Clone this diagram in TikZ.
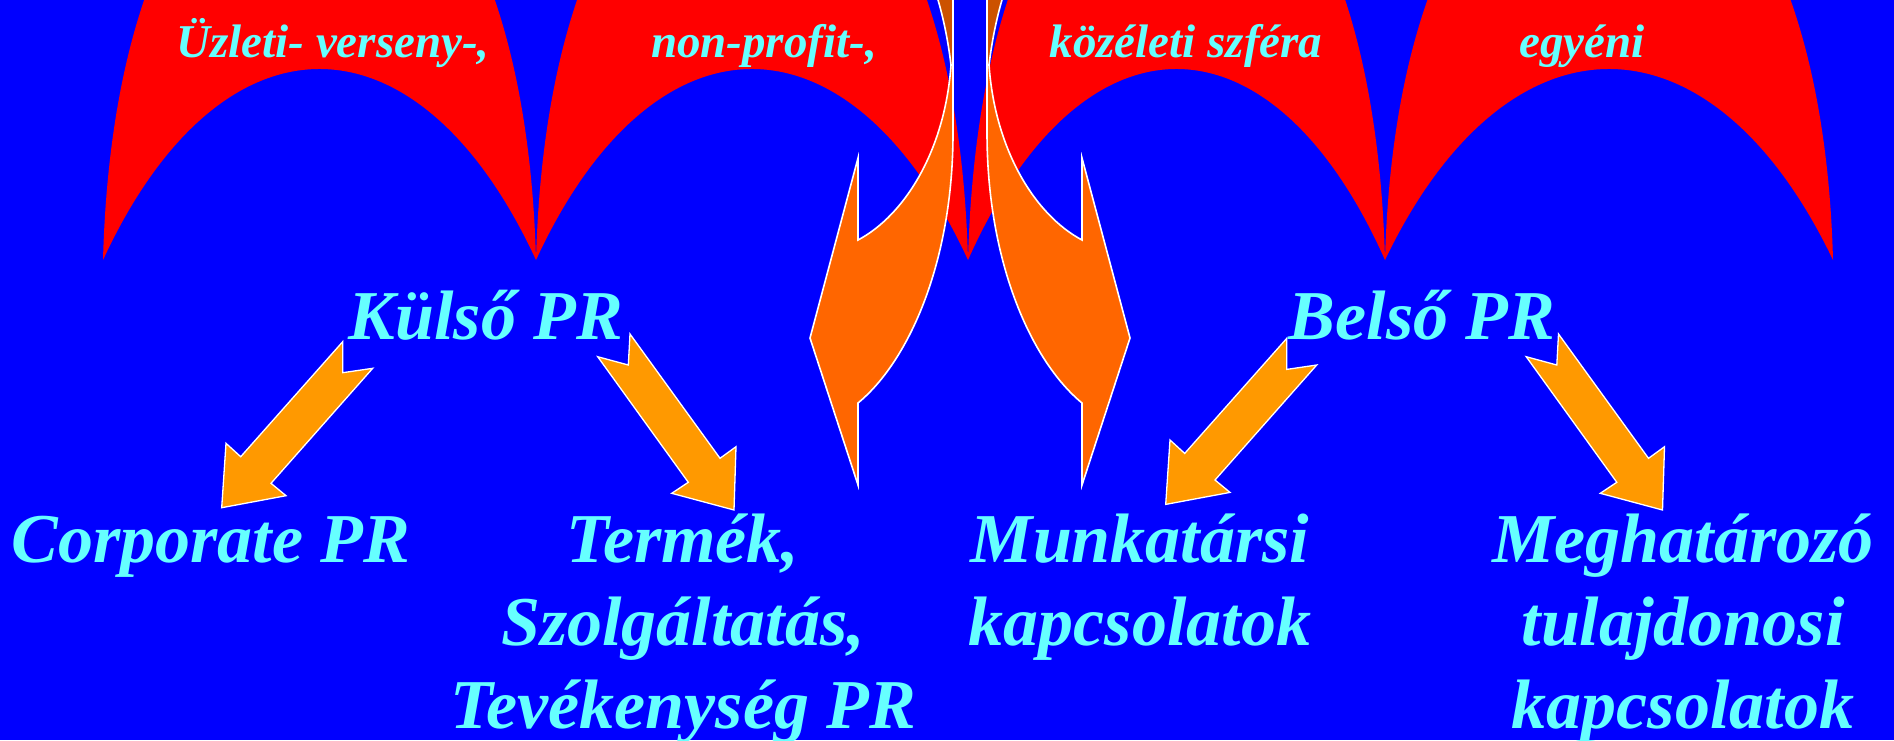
\documentclass[tikz,border=0pt]{standalone}
\usepackage{fontspec}
\setmainfont{Liberation Serif}
\definecolor{bgblue}{RGB}{0,0,255}
\definecolor{archred}{RGB}{255,0,0}
\definecolor{txtcyan}{RGB}{102,255,255}
\definecolor{bigorange}{RGB}{255,102,0}
\definecolor{darkorange}{RGB}{204,82,0}
\definecolor{smallorange}{RGB}{255,153,0}
\newcommand\RedArch[2]{\fill[archfill] (#1,260) .. controls ({#1+16},-330) and ({#2-16},-330) .. (#2,260) .. controls ({#2-0.272*(#2-#1)},5.3) and ({#1+0.272*(#2-#1)},5.3) .. (#1,260) -- cycle;}
\newcommand\CurvedBigArrow{%
  \path[bigarrow] (858,158) -- (858,240) .. controls (905,215) and (945,150) .. (951,65) -- (953,65) -- (953,133) .. controls (953,260) and (910,360) .. (858,403) -- (858,485) -- (810,338) -- cycle;
  \path[bigback] (951,65) .. controls (948,40) and (943,15) .. (935,-10) -- (953,-10) -- (953,65) -- cycle;}
\begin{document}
\begin{tikzpicture}[x=0.5pt,y=-0.5pt,
  archfill/.style={fill=archred},
  bigarrow/.style={fill=bigorange, draw=white, line width=0.8pt, line join=miter},
  bigback/.style={fill=darkorange, draw=white, line width=0.8pt},
  smallarrow/.style={fill=smallorange, draw=white, line width=0.65pt, line join=miter},
  toplabel/.style={text=txtcyan, font=\fontsize{23.5}{27}\selectfont\bfseries\itshape, anchor=base, inner sep=0pt},
  biglabel/.style={text=txtcyan, font=\fontsize{35}{41.5}\selectfont\bfseries\itshape, anchor=base, inner sep=0pt, align=center},
  notchA/.pic={\path[smallarrow] (342.7,341.7) -- (342.7,372.7) -- (372.7,368.3) -- (271,483.3) -- (286,495.7) -- (221.7,507.7) -- (226,443.3) -- (240.7,456.7) -- cycle;},
  notchB/.pic={\path[smallarrow] (597.7,356.7) -- (628.3,365) -- (630,334) -- (720,458.3) -- (736,446.7) -- (734,510) -- (671.7,493.3) -- (688.3,482.3) -- cycle;}
]
\useasboundingbox (0,0) rectangle (1894,740);
\fill[bgblue] (0,0) rectangle (1894,740);
\begin{scope}
  \clip (0,0) rectangle (1894,740);
  \RedArch{103}{536}
  \RedArch{536}{968}
  \RedArch{968}{1385}
  \RedArch{1385}{1833}
  \CurvedBigArrow
  \begin{scope}[shift={(1940,0)}, xscale=-1]
    \CurvedBigArrow
  \end{scope}
\end{scope}
% small block arrows
\pic at (0,0) {notchA};
\pic at (0,0) {notchB};
\pic at (944,-3.3) {notchA};
\pic at (928.5,0) {notchB};
% labels
\node[toplabel] (uzleti) at (333,57) {Üzleti- verseny-,};
\node[toplabel] (nonprofit) at (764,57) {non-profit-,};
\node[toplabel] (kozeleti) at (1186,57) {közéleti szféra};
\node[toplabel] (egyeni) at (1582,57) {egyéni};
\node[biglabel] (kulso) at (486,339) {Külső PR};
\node[biglabel] (belso) at (1422,339) {Belső PR};
\node[biglabel] (corp) at (211,562) {Corporate PR};
\node[biglabel] (termek) at (683,728) {Termék,\\Szolgáltatás,\\Tevékenység PR};
\node[biglabel] (munka) at (1140,645) {Munkatársi\\kapcsolatok};
\node[biglabel] (meghat) at (1683,728) {Meghatározó\\tulajdonosi \\kapcsolatok};
\end{tikzpicture}
\end{document}
